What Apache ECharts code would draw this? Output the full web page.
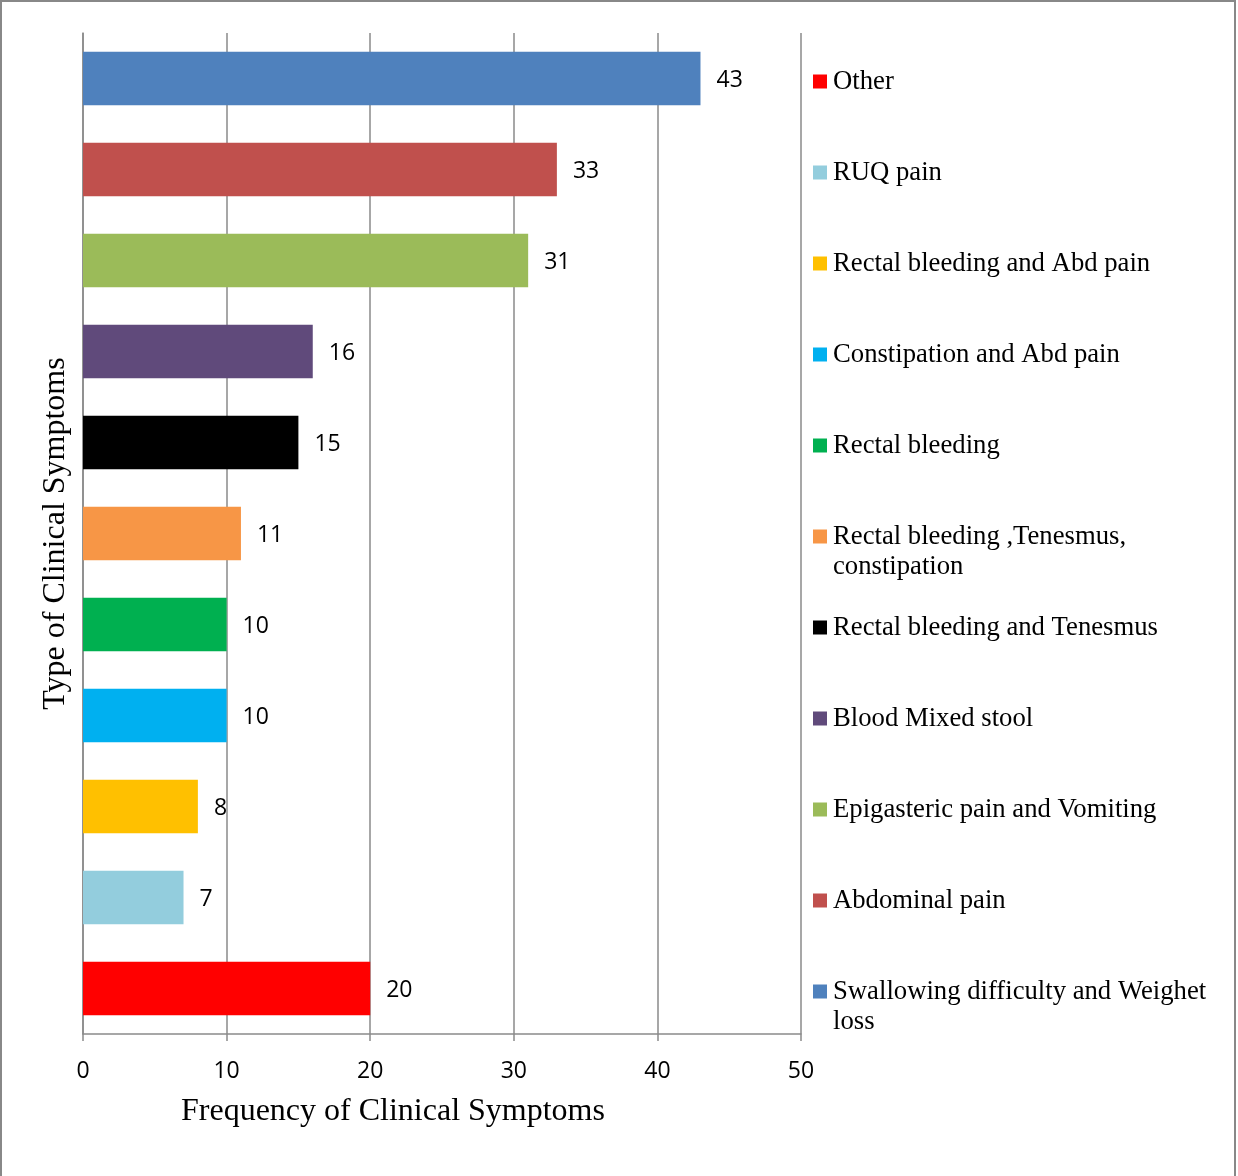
<!DOCTYPE html>
<html>
<head>
<meta charset="utf-8">
<script src="https://cdn.jsdelivr.net/npm/echarts@6/dist/echarts.min.js"></script>
<style>
html,body{margin:0;padding:0;background:#fff;}
#chart{width:1238px;height:1176px;}
</style>
</head>
<body>
<div id="chart"></div>
<script>
// Categories listed from bottom of the axis to the top
var categories = [
  "Other",
  "RUQ pain",
  "Rectal bleeding and Abd pain",
  "Constipation and Abd pain",
  "Rectal bleeding",
  "Rectal bleeding ,Tenesmus, constipation",
  "Rectal bleeding and Tenesmus",
  "Blood Mixed stool",
  "Epigasteric pain and Vomiting",
  "Abdominal pain",
  "Swallowing difficulty and Weighet loss"
];
var values = [20, 7, 8, 10, 10, 11, 15, 16, 31, 33, 43];
var colors = ["#FF0000", "#93CDDD", "#FFC000", "#00B0F0", "#00B050", "#F79646",
              "#000000", "#604A7B", "#9BBB59", "#C0504D", "#4F81BD"];
var legendLabels = [
  "Other",
  "RUQ pain",
  "Rectal bleeding and Abd pain",
  "Constipation and Abd pain",
  "Rectal bleeding",
  "Rectal bleeding ,Tenesmus,\nconstipation",
  "Rectal bleeding and Tenesmus",
  "Blood Mixed stool",
  "Epigasteric pain and Vomiting",
  "Abdominal pain",
  "Swallowing difficulty and Weighet\nloss"
];
var xTicks = [0, 10, 20, 30, 40, 50];
var xTitle = "Frequency of Clinical Symptoms";
var yTitle = "Type of Clinical Symptoms";

var W = 1238, H = 1176;
var gridLeft = 83, gridRight = 801, gridTop = 33, gridBottom = 1034;
var band = (gridBottom - gridTop) / categories.length;
var gray = "#8a8a8a";
var serif = "'Liberation Serif', 'Times New Roman', serif";
var sans = "'Open Sans', 'Liberation Sans', sans-serif";

var series = categories.map(function (name, i) {
  var d = categories.map(function (c, j) { return j === i ? values[i] : '-'; });
  return {
    name: name,
    type: 'bar',
    stack: 'all',
    barWidth: '59%',
    data: d,
    itemStyle: { color: colors[i] },
    label: {
      show: true,
      position: 'right',
      distance: 16,
      offset: [0, 2],
      color: '#000',
      fontFamily: sans,
      fontSize: 23
    },
    emphasis: { disabled: true }
  };
});

var legends = categories.map(function (name, i) {
  var center = gridTop + band * (i + 0.5) + 3;
  var lbl = legendLabels[i];
  var twoLine = lbl.indexOf('\n') >= 0;
  var h = twoLine ? 90 : 30;
  return {
    orient: 'vertical',
    left: 813,
    top: center - h / 2,
    padding: 0,
    itemWidth: 14,
    itemHeight: 14,
    itemGap: 0,
    icon: 'rect',
    selectedMode: false,
    data: [name],
    formatter: function () { return twoLine ? '\n' + lbl : lbl; },
    textStyle: {
      fontFamily: serif,
      fontSize: 26.7,
      lineHeight: 30,
      color: '#000',
      padding: [0, 0, 0, 1]
    }
  };
});

var chart = echarts.init(document.getElementById('chart'), null, { renderer: 'canvas' });
chart.setOption({
  backgroundColor: '#fff',
  animation: false,
  title: {
    text: xTitle,
    left: 181,
    top: 1096,
    padding: 0,
    textStyle: { fontFamily: serif, fontSize: 32, fontWeight: 'normal', color: '#000' }
  },
  legend: legends,
  grid: {
    left: gridLeft,
    right: W - gridRight,
    top: gridTop,
    bottom: H - gridBottom,
    containLabel: false
  },
  xAxis: {
    type: 'value',
    min: xTicks[0],
    max: xTicks[xTicks.length - 1],
    interval: 10,
    axisLine: { show: true, lineStyle: { color: gray, width: 1.5 } },
    axisTick: { show: true, length: 7, lineStyle: { color: gray, width: 1.5 } },
    splitLine: { show: true, lineStyle: { color: gray, width: 1.5 } },
    axisLabel: { margin: 26, color: '#000', fontFamily: sans, fontSize: 23 }
  },
  yAxis: {
    type: 'category',
    data: categories,
    name: yTitle,
    nameLocation: 'middle',
    nameGap: 11,
    nameTextStyle: { fontFamily: serif, fontSize: 32, color: '#000' },
    axisLine: { show: true, lineStyle: { color: gray, width: 1.5 } },
    axisTick: { show: false },
    axisLabel: { show: false },
    splitLine: { show: false }
  },
  graphic: [{
    type: 'rect',
    shape: { x: 1, y: 1, width: 1234, height: 1200 },
    style: { fill: 'none', stroke: '#888', lineWidth: 2 },
    silent: true
  }],
  series: series
});
</script>
</body>
</html>
